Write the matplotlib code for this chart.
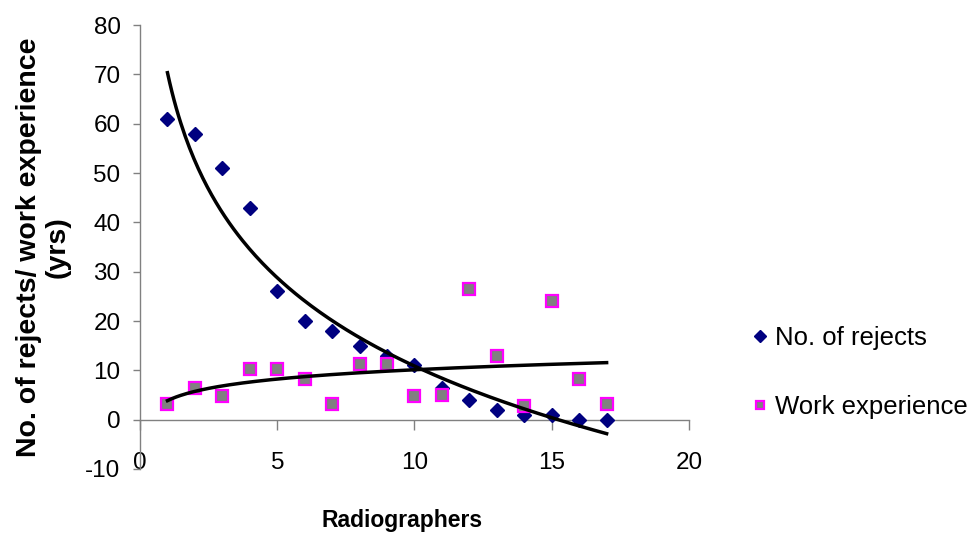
"""Rejects and work experience per radiographer, with log trend lines."""

import matplotlib

matplotlib.use("Agg")
import matplotlib.pyplot as plt
import numpy as np

radiographers = np.arange(1, 18)
rejects = [61, 58, 51, 43, 26, 20, 18, 15, 13, 11, 6.5, 4, 2, 1, 1, 0, 0]
work_experience = [3.2, 6.5, 4.9, 10.3, 10.3, 8.3, 3.2, 11.2, 11.2, 4.9, 5, 26.4, 13, 2.8, 24, 8.3, 3.2]

x_ticks = [0, 5, 10, 15, 20]
y_ticks = list(range(-10, 81, 10))

plt.rcParams["font.family"] = ["Liberation Sans", "DejaVu Sans"]
plt.rcParams["axes.unicode_minus"] = False

fig = plt.figure(figsize=(9.69, 5.35), dpi=100)
ax = fig.add_axes([0.1445, 0.1234, 0.5665, 0.8296])

ax.plot(radiographers, rejects, linestyle="none", marker="D", markersize=7.5,
        color="#000080", label="No. of rejects", zorder=3)
ax.plot(radiographers, work_experience, linestyle="none", marker="s", markersize=8,
        markerfacecolor="#808080", markeredgecolor="#FF00FF", markeredgewidth=1.6,
        label="Work experience", zorder=3)

# Logarithmic trend lines fitted to each series.
xs = np.linspace(1, 17, 200)
for series in (rejects, work_experience):
    b, a = np.polyfit(np.log(radiographers), series, 1)
    ax.plot(xs, a + b * np.log(xs), color="black", linewidth=2.5, zorder=4)

ax.set_xlim(0, 20)
ax.set_ylim(-10, 80)
ax.set_xticks(x_ticks)
ax.set_yticks(y_ticks)
ax.patch.set_visible(False)

for side in ("top", "right"):
    ax.spines[side].set_visible(False)
ax.spines["bottom"].set_position(("data", 0))
for side in ("left", "bottom"):
    ax.spines[side].set_color("#808080")
    ax.spines[side].set_linewidth(1.0)

ax.tick_params(axis="x", direction="out", length=7, width=1, color="#808080",
               pad=16, labelsize=17.5)
ax.tick_params(axis="y", direction="out", length=5, width=1, color="#808080",
               pad=9, labelsize=17.5)

fig.text(0.045, 0.538, "No. of rejects/ work experience\n(yrs)", rotation=90,
         ha="center", va="center", multialignment="center", fontsize=20.5,
         fontweight="bold", linespacing=1.15)
fig.text(0.415, 0.028, "Radiographers", ha="center", va="center",
         fontsize=16.5, fontweight="bold")

fig.legend(loc="center left", bbox_to_anchor=(0.752, 0.303), frameon=False,
           fontsize=18.5, labelspacing=1.75, handlelength=0.6, handletextpad=0.3,
           markerscale=0.8)

fig.savefig("out.png", dpi=100)
